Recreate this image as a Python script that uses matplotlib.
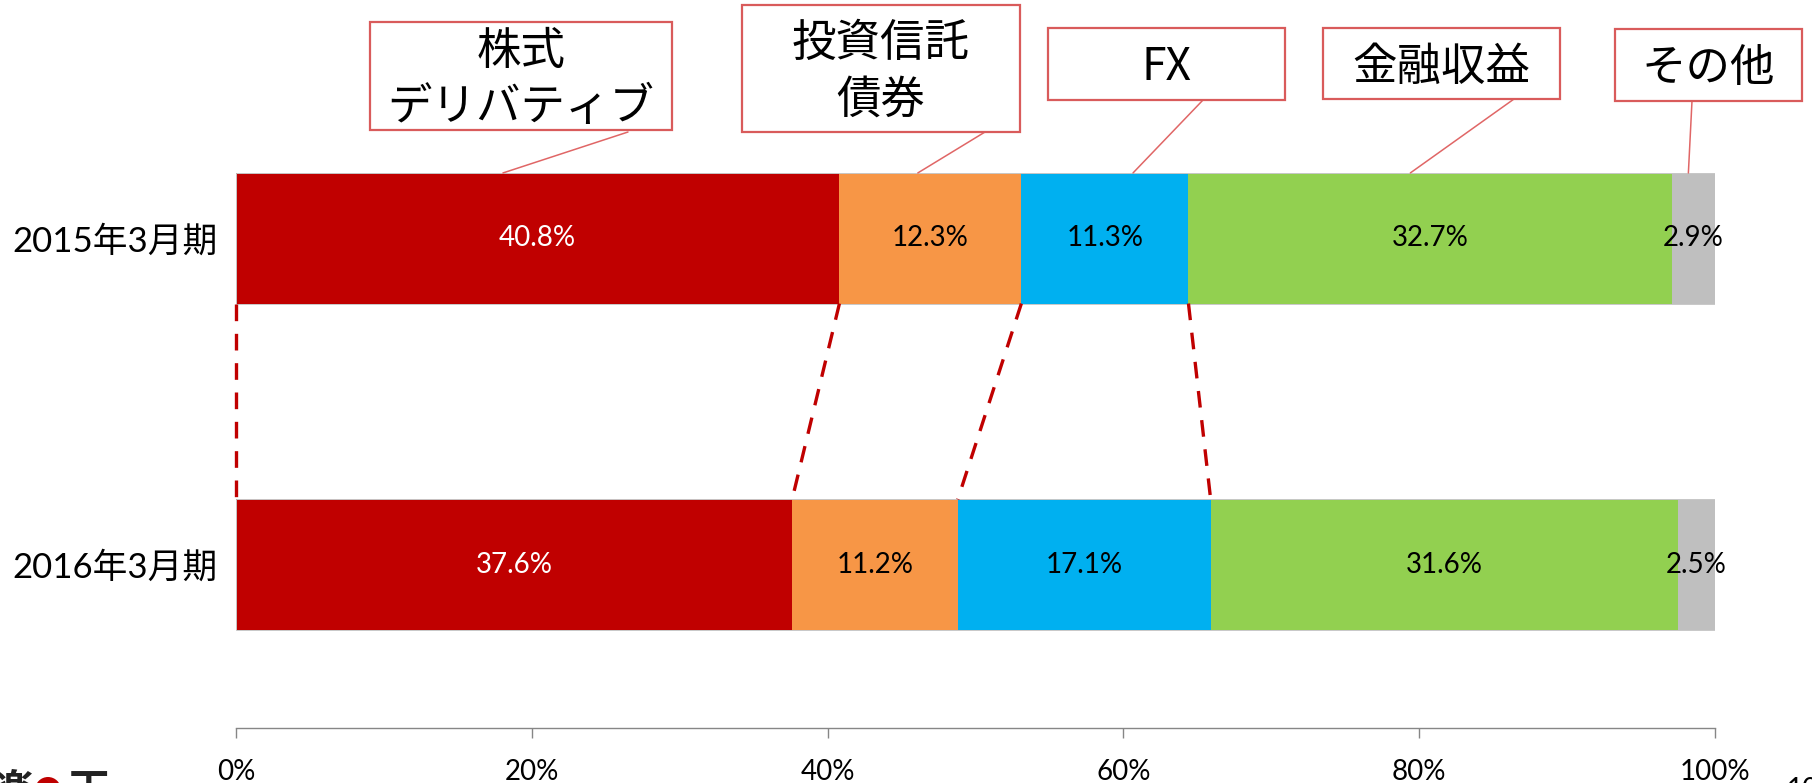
import matplotlib
matplotlib.use('Agg')
import matplotlib.pyplot as plt
from matplotlib.patches import Rectangle, Ellipse
import numpy as np

# ---------------- data ----------------
categories = ['2015年3月期', '2016年3月期']
segments = ['株式\nデリバティブ', '投資信託\n債券', 'FX', '金融収益', 'その他']
values_2015 = [40.8, 12.3, 11.3, 32.7, 2.9]
values_2016 = [37.6, 11.2, 17.1, 31.6, 2.5]
colors = ['#C00000', '#F79646', '#00B0F0', '#92D050', '#BFBFBF']
label_colors = ['white', 'black', 'black', 'black', 'black']
xticks = [0, 20, 40, 60, 80, 100]
xtick_labels = ['0%', '20%', '40%', '60%', '80%', '100%']

# ---------------- layout ----------------
W, H = 1812, 783
NUM_FONT = ['Lato', 'Noto Sans CJK JP', 'DejaVu Sans']
CJK_FONT = ['Noto Sans CJK JP', 'DejaVu Sans']

def fx(px):
    return px / W

def fy(py):
    return 1 - py / H

fig = plt.figure(figsize=(W / 100, H / 100), dpi=100)
fig.patch.set_facecolor('white')
ax = fig.add_axes([fx(236), fy(728), (1715 - 236) / W, (728 - 75) / H])

rows = [values_2015, values_2016]
ypos = [1, 0]
bar_h = 0.4

for vals, y in zip(rows, ypos):
    lefts = np.concatenate([[0], np.cumsum(vals)[:-1]])
    ax.barh([y] * len(vals), vals, left=lefts, height=bar_h, color=colors,
            edgecolor='none', zorder=2)
    # faint outline of the full bar
    ax.barh([y], [sum(vals)], left=[0], height=bar_h, color='none',
            edgecolor='#C8C8C8', linewidth=0.7, zorder=2.5)
    for v, l, tc in zip(vals, lefts, label_colors):
        ax.text(l + v / 2, y, f'{v:.1f}%', ha='center', va='center',
                color=tc, fontsize=20, family=NUM_FONT, zorder=4)

ax.set_xlim(0, 100)
ax.set_ylim(-0.5, 1.5)
ax.set_xticks(xticks)
ax.set_xticklabels(xtick_labels, family=NUM_FONT, fontsize=20)
ax.set_yticks(ypos)
ax.set_yticklabels(categories, family=NUM_FONT, fontsize=25)
for s in ['top', 'right', 'left']:
    ax.spines[s].set_visible(False)
ax.spines['bottom'].set_color('#868686')
ax.spines['bottom'].set_linewidth(1)
ax.tick_params(axis='x', direction='out', length=7.2, width=1, color='#868686', pad=15)
ax.tick_params(axis='y', length=0, pad=13.5)

# dashed connectors between segment boundaries
lefts15 = np.concatenate([[0], np.cumsum(values_2015)[:-1]])
lefts16 = np.concatenate([[0], np.cumsum(values_2016)[:-1]])
for t, b in zip(lefts15[:4], lefts16[:4]):
    ax.plot([t, b], [1 - bar_h / 2, bar_h / 2], color='#C00000', lw=2.4,
            linestyle=(0, (5, 3.8)), clip_on=False, zorder=3, dash_capstyle='butt')

# callout boxes (pixel layout)
box_px = [(370, 22, 672, 130), (742, 5, 1020, 132), (1048, 28, 1285, 100),
          (1323, 28, 1560, 99), (1615, 29, 1802, 101)]
leader_start_px = [(628, 132), (985, 132), (1203, 100), (1514, 99), (1692, 101)]
leader_dx = [-2.35, -0.85, 1.9, -1.35, -0.35]
line_gap = 57

centers15 = lefts15 + np.array(values_2015) / 2
for seg, (x0, y0, x1, y1), (sx, sy), dx, c in zip(segments, box_px, leader_start_px,
                                                   leader_dx, centers15):
    fig.add_artist(Rectangle((fx(x0), fy(y1)), (x1 - x0) / W, (y1 - y0) / H,
                             transform=fig.transFigure, facecolor='white',
                             edgecolor='#D95B5B', linewidth=1.6, zorder=5))
    lines = seg.split('\n')
    n = len(lines)
    cy = (y0 + y1) / 2 + 3
    for j, ln in enumerate(lines):
        ly = cy + (j - (n - 1) / 2) * line_gap
        fig.text(fx((x0 + x1) / 2), fy(ly), ln, ha='center', va='center',
                 fontsize=32, family=CJK_FONT, color='black', zorder=6)
    ax.annotate('', xy=(c + dx, 1 + bar_h / 2), xycoords='data',
                xytext=(fx(sx), fy(sy)), textcoords='figure fraction',
                arrowprops=dict(arrowstyle='-', color='#E06666', lw=1.1,
                                shrinkA=0, shrinkB=0), annotation_clip=False, zorder=5)

# logo (cut off at bottom-left, as in the original slide)
fig.text(fx(-6), fy(803), '楽', ha='left', va='baseline', fontsize=29,
         fontweight='bold', family=CJK_FONT, color='#222222')
fig.add_artist(Ellipse((fx(48), fy(790)), 26 / W, 26 / H, transform=fig.transFigure,
                       facecolor='#BF0000', edgecolor='none'))
fig.text(fx(48), fy(790), 'R', ha='center', va='center', fontsize=12,
         fontweight='bold', family=NUM_FONT, color='white')
fig.text(fx(69), fy(803), '天', ha='left', va='baseline', fontsize=29,
         fontweight='bold', family=CJK_FONT, color='#222222')
# page number (cut off)
fig.text(fx(1787), fy(798), '10', ha='left', va='baseline', fontsize=20,
         family=NUM_FONT, color='black')

fig.savefig('out.png', dpi=100, facecolor='white')
